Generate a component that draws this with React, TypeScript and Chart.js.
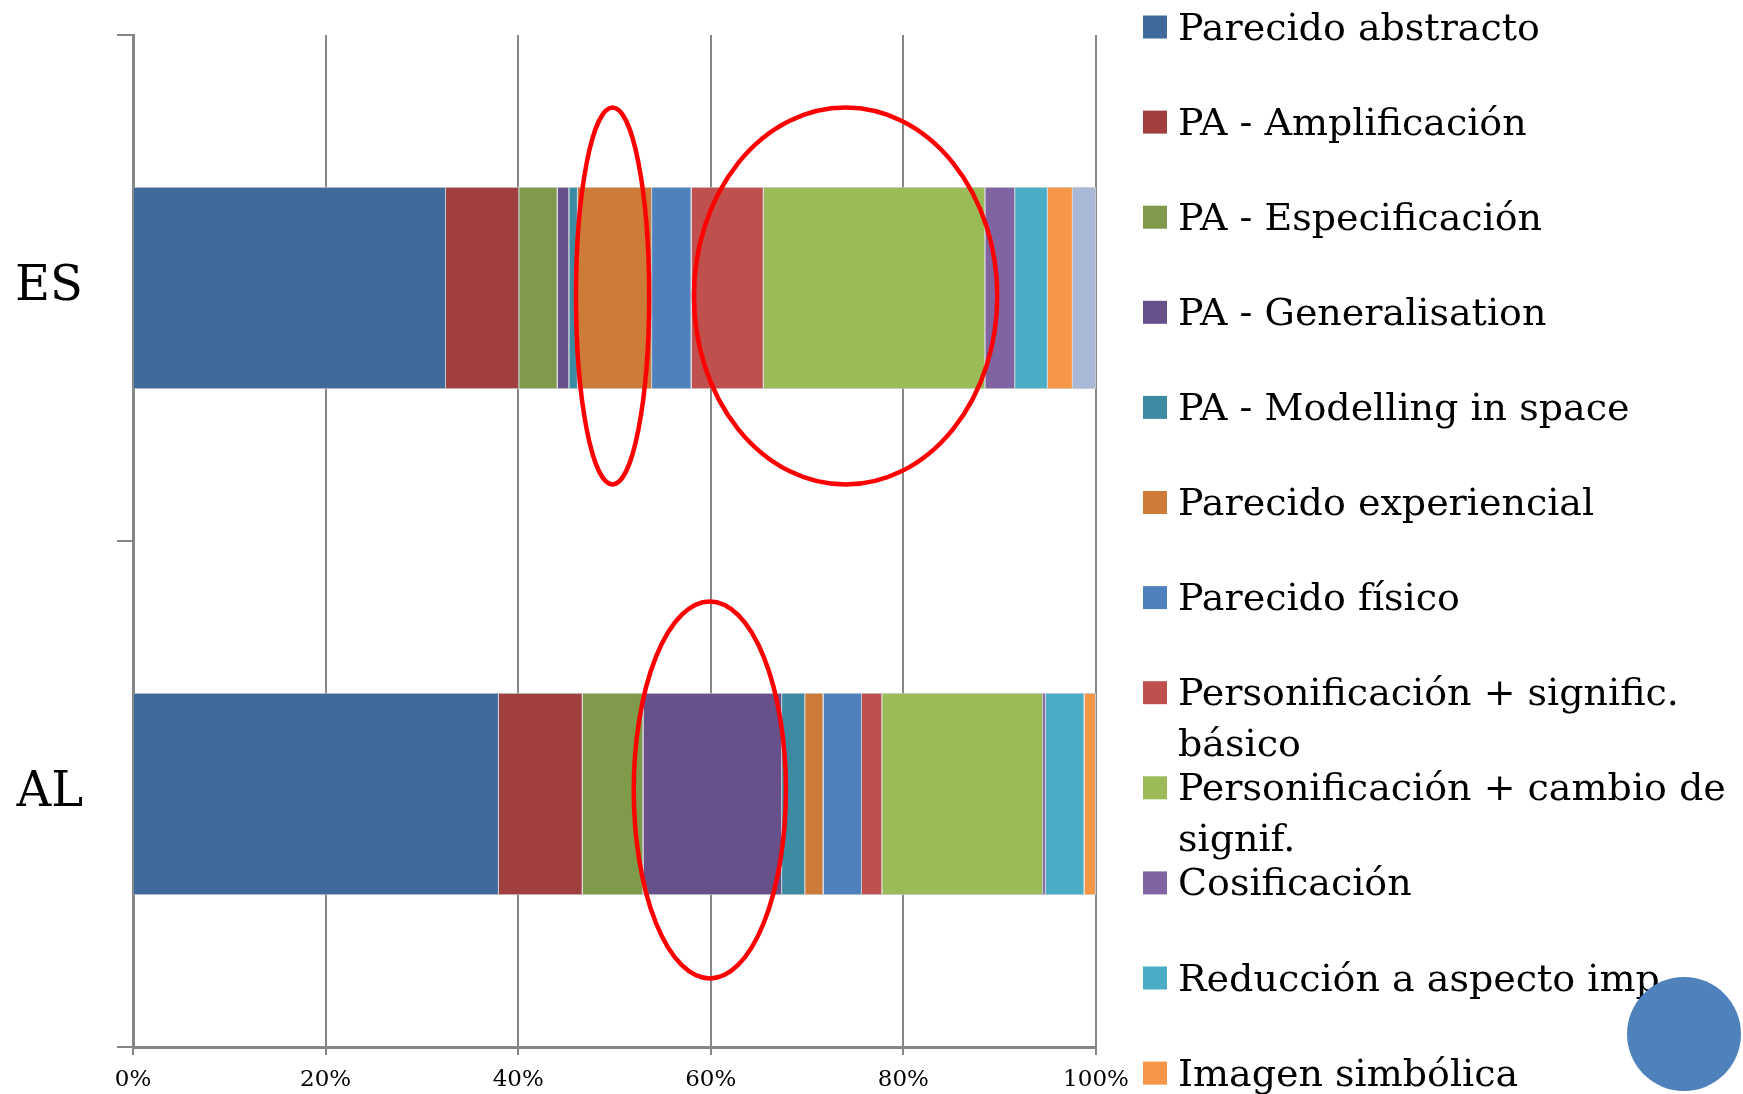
import React, { useEffect, useRef } from 'react';
import { Chart, registerables } from 'chart.js';

Chart.register(...registerables);

// Language groups on the vertical axis
const categories = ['ES', 'AL'];

// Metaphor types, in stacking order
const seriesNames = [
  'Parecido abstracto',
  'PA - Amplificación',
  'PA - Especificación',
  'PA - Generalisation',
  'PA - Modelling in space',
  'Parecido experiencial',
  'Parecido físico',
  'Personificación + signific. básico',
  'Personificación + cambio de signif.',
  'Cosificación',
  'Reducción a aspecto imp.',
  'Imagen simbólica',
  'Otros',
];

const seriesColors = [
  '#406A9B',
  '#9F403F',
  '#7F9A4A',
  '#68508A',
  '#3C8BA2',
  '#CC7B38',
  '#4F81BD',
  '#C0504D',
  '#9BBB59',
  '#8064A2',
  '#4BACC6',
  '#F79646',
  '#A9B8D6',
];

// Share of each type (%), per language group
const esValues = [32.5, 7.6, 4.0, 1.2, 0.9, 7.7, 4.1, 7.5, 23.0, 3.1, 3.4, 2.6, 2.4];
const alValues = [38.0, 8.7, 6.3, 14.4, 2.4, 1.9, 4.0, 2.1, 16.7, 0.3, 4.0, 1.2, 0.0];

// Percent ticks on the horizontal axis
const xTickValues = [0, 20, 40, 60, 80, 100];

// Red rings drawn around groups of segments (centre offset and half-height in category bands)
const ringCategory = [0, 0, 1];
const ringCentre = [49.8, 74.0, 59.9];
const ringHalfWidth = [3.8, 15.75, 7.9];
const ringShift = [0.016, 0.016, -0.008];
const ringHalfHeight = 0.3725;

// Legend entries wrap onto a second line where needed
const legendLines: string[][] = [
  ['Parecido abstracto'],
  ['PA - Amplificación'],
  ['PA - Especificación'],
  ['PA - Generalisation'],
  ['PA - Modelling in space'],
  ['Parecido experiencial'],
  ['Parecido físico'],
  ['Personificación + signific.', 'básico'],
  ['Personificación + cambio de', 'signif.'],
  ['Cosificación'],
  ['Reducción a aspecto imp.'],
  ['Imagen simbólica'],
  ['Otros'],
];

const SERIF = '"DejaVu Serif", serif';
const AXIS_GREY = '#868686';

const overlayPlugin = {
  id: 'overlay',
  afterDatasetsDraw(chart: any) {
    const { ctx, scales } = chart;
    const x = scales.x;
    const y = scales.y;
    const band = y.getPixelForValue(1) - y.getPixelForValue(0);
    ctx.save();
    ctx.strokeStyle = '#FF0000';
    ctx.lineWidth = 4.5;
    for (let i = 0; i < ringCentre.length; i++) {
      const cx = x.getPixelForValue(ringCentre[i]);
      const rx = x.getPixelForValue(ringCentre[i] + ringHalfWidth[i]) - cx;
      const cy = y.getPixelForValue(ringCategory[i]) + ringShift[i] * band;
      const ry = band * ringHalfHeight;
      ctx.beginPath();
      ctx.ellipse(cx, cy, rx, ry, 0, 0, Math.PI * 2);
      ctx.stroke();
    }
    ctx.restore();
  },
  afterDraw(chart: any) {
    const { ctx } = chart;
    ctx.save();
    // legend column
    const swatchX = 1143;
    const textX = 1178;
    const firstBaseline = 39.5;
    const rowGap = 95.1;
    const lineGap = 51;
    ctx.font = `38px ${SERIF}`;
    ctx.textBaseline = 'alphabetic';
    ctx.textAlign = 'left';
    legendLines.forEach((lines, i) => {
      const base = firstBaseline + rowGap * i;
      ctx.fillStyle = seriesColors[i];
      ctx.fillRect(swatchX, base - 24, 24, 23);
      ctx.fillStyle = '#000000';
      lines.forEach((t, j) => ctx.fillText(t, textX, base + lineGap * j));
    });
    // slide marker
    ctx.fillStyle = '#4F81BD';
    ctx.beginPath();
    ctx.arc(1684, 1034, 57, 0, Math.PI * 2);
    ctx.fill();
    ctx.restore();
  },
};

export default function App() {
  const canvasRef = useRef<HTMLCanvasElement | null>(null);

  useEffect(() => {
    const canvas = canvasRef.current;
    if (!canvas) return;
    const chart = new Chart(canvas, {
      type: 'bar',
      data: {
        labels: categories,
        datasets: seriesNames.map((name, i) => ({
          label: name,
          data: [esValues[i], alValues[i]],
          backgroundColor: seriesColors[i],
          borderColor: '#c3c7ce',
          borderWidth: 1,
          categoryPercentage: 0.4,
          barPercentage: 1,
        })),
      },
      options: {
        indexAxis: 'y',
        responsive: false,
        animation: false,
        layout: { padding: { left: 0, right: 647, top: 35, bottom: 0 } },
        plugins: {
          legend: { display: false },
          tooltip: { enabled: false },
        },
        scales: {
          x: {
            stacked: true,
            min: 0,
            max: 100,
            afterBuildTicks: (scale: any) => {
              scale.ticks = xTickValues.map((v) => ({ value: v }));
            },
            ticks: {
              callback: (v: any) => `${v}%`,
              font: { family: SERIF, size: 23 },
              color: '#000000',
              padding: 11,
              maxRotation: 0,
            },
            grid: { color: AXIS_GREY, lineWidth: 2, tickLength: 8 },
            border: { color: AXIS_GREY, width: 3 },
            afterFit: (scale: any) => {
              scale.height = 47;
              scale.paddingLeft = 0;
              scale.paddingRight = 0;
            },
          },
          y: {
            stacked: true,
            grid: {
              offset: true,
              drawOnChartArea: false,
              color: AXIS_GREY,
              lineWidth: 2,
              tickLength: 16,
            },
            border: { color: AXIS_GREY, width: 3 },
            ticks: {
              font: { family: SERIF, size: 48 },
              color: '#000000',
              padding: 34,
            },
            afterFit: (scale: any) => {
              scale.width = 133;
              scale.paddingTop = 0;
              scale.paddingBottom = 0;
            },
          },
        },
      },
      plugins: [overlayPlugin],
    });
    return () => chart.destroy();
  }, []);

  return (
    <div style={{ position: 'absolute', left: 0, top: 0, width: 1743, height: 1094, background: '#ffffff' }}>
      <canvas ref={canvasRef} width={1743} height={1094} style={{ display: 'block' }} />
    </div>
  );
}
